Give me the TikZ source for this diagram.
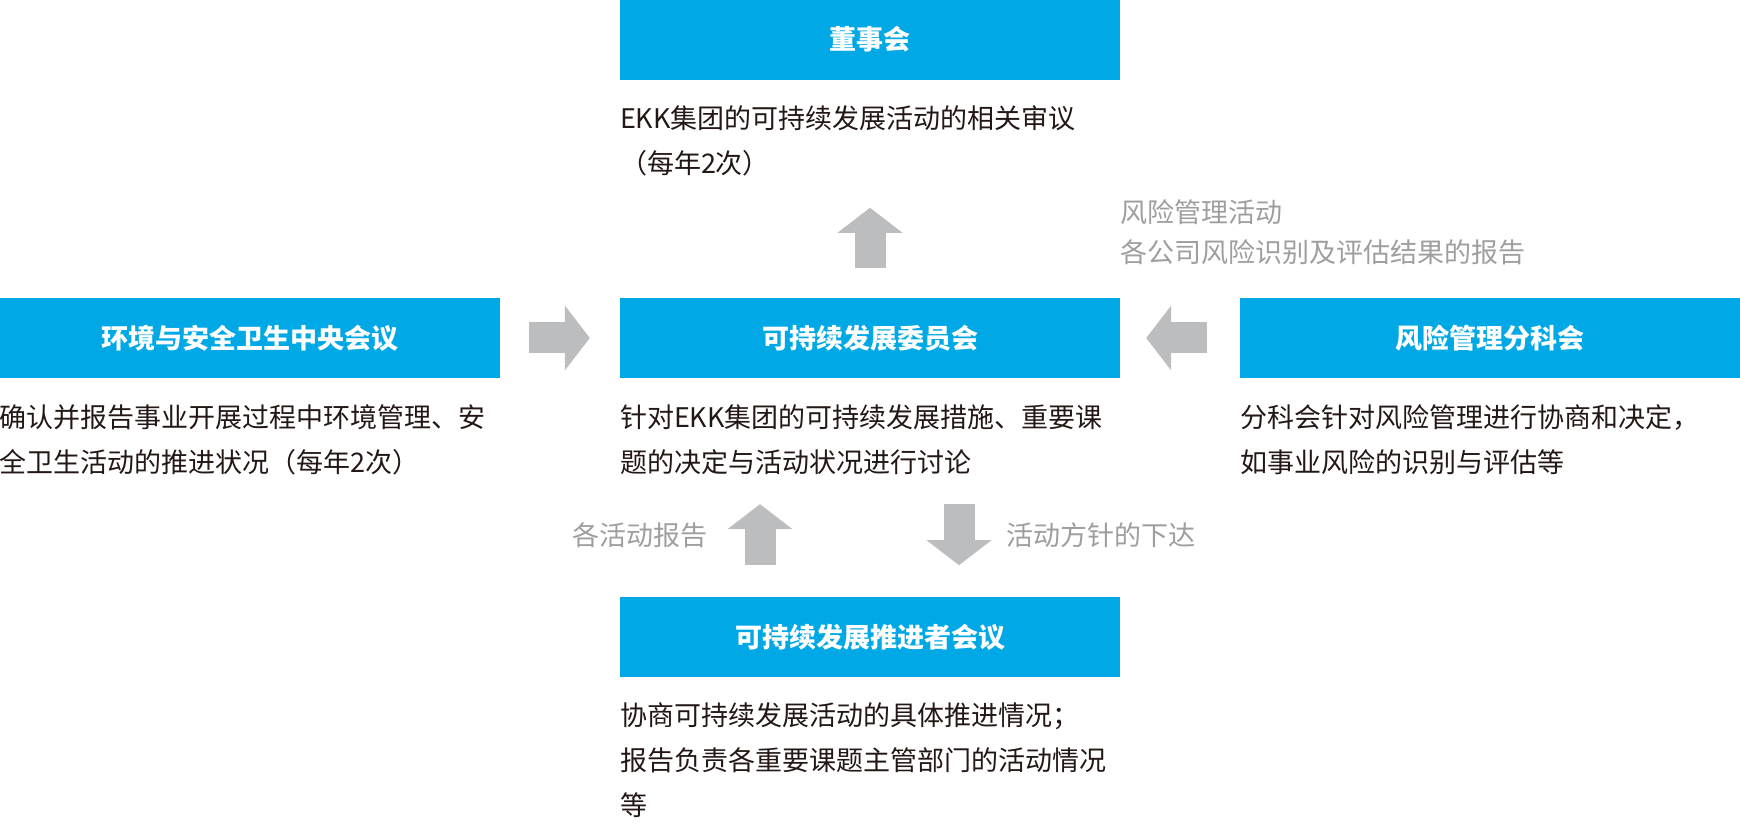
\documentclass[tikz,border=0pt]{standalone}
\usepackage{fontspec}
\usepackage{tikz}
\usetikzlibrary{positioning,arrows.meta}
\newfontfamily\cjk{Noto Sans CJK SC}
\definecolor{boxblue}{RGB}{0,169,230}
\definecolor{arrowgray}{RGB}{188,189,191}
\definecolor{labelgray}{RGB}{158,158,158}
\definecolor{bodyblack}{RGB}{35,24,21}
\tikzset{orgbox/.style={fill=boxblue, text=white, minimum width=500bp, minimum height=80bp, inner sep=0pt, font=\cjk\bfseries\fontsize{27bp}{45bp}\selectfont}}
\tikzset{desc/.style={text=bodyblack, align=left, inner sep=0pt, font=\cjk\fontsize{27bp}{45bp}\selectfont}}
\tikzset{flowlabel/.style={text=labelgray, align=left, inner sep=0pt, font=\cjk\fontsize{27bp}{40bp}\selectfont}}
\tikzset{fat/.style={draw=arrowgray, line width=31bp, -{Triangle[width=65bp 0 0,length=25bp 0 0,line width=0pt]}}}

\begin{document}
\begin{tikzpicture}[x=1bp,y=1bp]
\useasboundingbox (0,0) rectangle (1740,826);
% boxes
\node [orgbox] (comm) at (870,488) {可持续发展委员会};
\node [orgbox,above=218bp of comm] (board) {董事会};
\node [orgbox,left=120bp of comm] (env) {环境与安全卫生中央会议};
\node [orgbox,right=120bp of comm] (risk) {风险管理分科会};
\node [orgbox,below=219bp of comm] (promo) {可持续发展推进者会议};
% texts under the boxes
\node [desc,below right=26bp and 0bp of board.south west] (boardtxt) {EKK集团的可持续发展活动的相关审议\\（每年2次）};
\node [desc,below right=26bp and 0bp of env.south west] (envtxt) {确认并报告事业开展过程中环境管理、安\\全卫生活动的推进状况（每年2次）};
\node [desc,below right=26bp and 0bp of comm.south west] (commtxt) {针对EKK集团的可持续发展措施、重要课\\题的决定与活动状况进行讨论};
\node [desc,below right=26bp and 0bp of risk.south west] (risktxt) {分科会针对风险管理进行协商和决定，\\如事业风险的识别与评估等};
\node [desc,below right=25bp and 0bp of promo.south west] (promotxt) {协商可持续发展活动的具体推进情况；\\报告负责各重要课题主管部门的活动情况\\等};
\node [flowlabel,below right=120bp and 0bp of board.south east] (risknote) {风险管理活动\\各公司风险识别及评估结果的报告};
% arrows
\draw [fat,shorten <=29bp,shorten >=30bp] (env) -- (comm);
\draw [fat,shorten <=33bp,shorten >=26bp] (risk) -- (comm);
\draw [fat,shorten <=30bp,shorten >=128bp] (comm) -- (board);
\draw [fat,shorten <=32bp,shorten >=126bp] ([xshift=-110bp]promo.north) -- ([xshift=-110bp]comm.south)
  node [flowlabel,pos=0.285,left=37bp] (rptlbl) {各活动报告};
\draw [fat,shorten <=126bp,shorten >=32bp] ([xshift=89bp]comm.south) -- ([xshift=89bp]promo.north)
  node [flowlabel,pos=0.715,right=32bp] (plclbl) {活动方针的下达};
\end{tikzpicture}
\end{document}
